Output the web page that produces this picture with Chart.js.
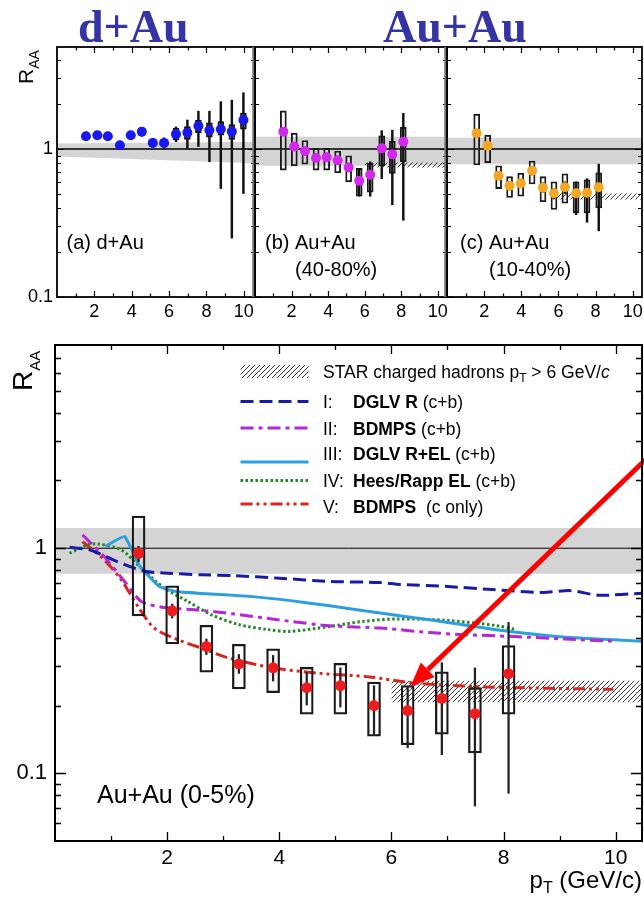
<!DOCTYPE html>
<html><head><meta charset="utf-8">
<script src="https://cdn.jsdelivr.net/npm/chart.js@4/dist/chart.umd.min.js"></script>
<style>
html,body{margin:0;padding:0;background:#fff;overflow:hidden;width:644px;height:900px;}
.cv{position:absolute;left:0;top:0;}
.ttl{position:absolute;font-family:"Liberation Serif","Times New Roman",serif;font-weight:bold;color:#3434a6;font-size:46px;line-height:1;white-space:nowrap;}
</style></head><body>
<canvas id="cA" class="cv" width="700" height="900"></canvas>
<canvas id="cB" class="cv" width="700" height="900"></canvas>
<canvas id="cC" class="cv" width="700" height="900"></canvas>
<canvas id="cD" class="cv" width="700" height="900"></canvas>
<div class="ttl" style="left:78px;top:4px;">d+Au</div>
<div class="ttl" style="left:383px;top:4px;">Au+Au</div>
<script>
// ---------------- DATA ----------------
// (a) d+Au
const ptA = [1.55, 2.16, 2.72, 3.37, 3.95, 4.54, 5.13, 5.73, 6.37, 6.98, 7.57, 8.16, 8.77, 9.36, 9.98];
const raaA = [1.22, 1.24, 1.22, 1.06, 1.24, 1.31, 1.10, 1.10, 1.26, 1.29, 1.43, 1.34, 1.36, 1.31, 1.57];
const statLoA = [1.15, 1.18, 1.16, 1.00, 1.17, 1.22, 1.02, 1.01, 1.12, 1.01, 1.04, 0.82, 0.54, 0.25, 0.50];
const statHiA = [1.30, 1.30, 1.29, 1.12, 1.31, 1.40, 1.18, 1.19, 1.41, 1.57, 1.80, 1.80, 2.09, 2.14, 2.40];
const sysLoA = [1.16, 1.18, 1.16, 1.01, 1.18, 1.24, 1.04, 1.04, 1.15, 1.16, 1.29, 1.20, 1.24, 1.16, 1.36];
const sysHiA = [1.28, 1.30, 1.28, 1.11, 1.30, 1.38, 1.16, 1.16, 1.38, 1.42, 1.57, 1.50, 1.53, 1.46, 1.75];
const bandXA = [0, 10.6], bandHiA = [1.09, 1.12], bandLoA = [0.89, 0.80];

// (b) Au+Au 40-80%
const ptB = [1.55, 2.15, 2.73, 3.34, 3.92, 4.52, 5.12, 5.70, 6.30, 6.93, 7.51, 8.11];
const raaB = [1.31, 1.04, 0.97, 0.87, 0.88, 0.84, 0.75, 0.61, 0.67, 1.01, 0.92, 1.12];
const statLoB = [1.24, 0.99, 0.92, 0.83, 0.84, 0.80, 0.71, 0.48, 0.48, 0.63, 0.42, 0.33];
const statHiB = [1.38, 1.09, 1.02, 0.91, 0.92, 0.88, 0.79, 0.74, 0.82, 1.33, 1.34, 1.74];
const sysLoB = [0.72, 0.77, 0.79, 0.72, 0.72, 0.69, 0.60, 0.48, 0.51, 0.77, 0.685, 0.82];
const sysHiB = [1.81, 1.28, 1.14, 1.01, 1.01, 0.97, 0.90, 0.74, 0.80, 1.23, 1.13, 1.40];
const bandXB = [0, 10.5], bandHiB = [1.21, 1.21], bandLoB = [0.77, 0.77];
const hatchXB = [6.0, 10.5], hatchHiB = [0.81, 0.81], hatchLoB = [0.75, 0.75];

// (c) Au+Au 10-40%
const ptC = [1.60, 2.19, 2.78, 3.37, 3.97, 4.58, 5.17, 5.76, 6.35, 6.95, 7.54, 8.17];
const raaC = [1.28, 1.05, 0.66, 0.565, 0.586, 0.714, 0.548, 0.502, 0.551, 0.502, 0.506, 0.551];
const statLoC = [1.20, 0.99, 0.62, 0.53, 0.55, 0.67, 0.51, 0.46, 0.50, 0.36, 0.32, 0.28];
const statHiC = [1.36, 1.11, 0.70, 0.60, 0.62, 0.76, 0.59, 0.54, 0.60, 0.60, 0.63, 0.79];
const sysLoC = [0.78, 0.81, 0.54, 0.47, 0.48, 0.58, 0.44, 0.39, 0.43, 0.37, 0.37, 0.40];
const sysHiC = [1.72, 1.24, 0.77, 0.65, 0.685, 0.83, 0.65, 0.60, 0.68, 0.60, 0.62, 0.69];
const bandXC = [0, 10.5], bandHiC = [1.19, 1.19], bandLoC = [0.79, 0.79];
const hatchXC = [5.9, 10.5], hatchHiC = [0.50, 0.50], hatchLoC = [0.455, 0.455];

// (d) Au+Au 0-5%
const ptD = [1.49, 2.09, 2.70, 3.28, 3.89, 4.49, 5.09, 5.69, 6.29, 6.90, 7.49, 8.09];
const raaD = [0.95, 0.527, 0.366, 0.306, 0.294, 0.240, 0.245, 0.200, 0.190, 0.215, 0.184, 0.277];
const statLoD = [0.87, 0.49, 0.337, 0.278, 0.257, 0.201, 0.197, 0.149, 0.130, 0.121, 0.0715, 0.0814];
const statHiD = [1.02, 0.565, 0.395, 0.337, 0.334, 0.281, 0.294, 0.245, 0.242, 0.31, 0.294, 0.468];
const sysLoD = [0.50, 0.376, 0.281, 0.237, 0.228, 0.183, 0.183, 0.146, 0.134, 0.149, 0.123, 0.183];
const sysHiD = [1.39, 0.68, 0.454, 0.374, 0.357, 0.296, 0.308, 0.254, 0.245, 0.282, 0.24, 0.369];
const bandXD = [0, 10.47], bandHiD = [1.23, 1.23], bandLoD = [0.77, 0.77];
const hatchXD = [6.0, 10.47], hatchHiD = [0.258, 0.258], hatchLoD = [0.207, 0.207];

// theory curves
const cI_x = [0.26, 0.64, 1.12, 1.6, 2.0, 2.6, 3.2, 4.0, 4.9, 5.8, 6.15, 7.0, 7.8, 8.7, 9.2, 9.7, 10.5];
const cI_y = [1.01, 0.98, 0.87, 0.79, 0.775, 0.762, 0.755, 0.736, 0.712, 0.704, 0.69, 0.676, 0.655, 0.636, 0.648, 0.618, 0.632];
const cII_x = [0.49, 0.88, 1.24, 1.54, 1.95, 2.49, 3.2, 4.0, 4.9, 5.8, 6.68, 7.3, 8.2, 9.1, 10.0];
const cII_y = [1.146, 0.918, 0.711, 0.58, 0.545, 0.533, 0.51, 0.48, 0.452, 0.442, 0.422, 0.413, 0.405, 0.395, 0.386];
const cIII_x = [0.9, 1.24, 1.5, 1.86, 2.16, 2.6, 3.47, 4.2, 4.9, 5.8, 6.68, 7.87, 9.06, 10.5];
const cIII_y = [1.02, 1.126, 0.84, 0.676, 0.642, 0.63, 0.611, 0.585, 0.555, 0.515, 0.481, 0.434, 0.403, 0.386];
const cIV_x = [0.26, 0.58, 0.76, 1.18, 1.54, 1.95, 2.37, 2.79, 3.29, 3.8, 4.18, 4.9, 5.49, 6.09, 6.98, 7.87, 8.23];
const cIV_y = [0.95, 1.034, 1.045, 0.983, 0.815, 0.665, 0.58, 0.506, 0.457, 0.435, 0.427, 0.449, 0.473, 0.485, 0.478, 0.453, 0.434];
const cV_x = [0.49, 0.88, 1.18, 1.48, 1.77, 2.19, 2.61, 3.08, 3.89, 4.72, 5.61, 6.39, 7.7, 9.96];
const cV_y = [1.07, 0.887, 0.724, 0.551, 0.442, 0.392, 0.36, 0.326, 0.294, 0.278, 0.268, 0.252, 0.242, 0.236];

// arrow annotation (data coordinates)
const arrowFrom = {x: 10.55, y: 2.5};
const arrowTo = {x: 6.34, y: 0.243};

// ---------------- STYLE / HELPERS ----------------
const FONT = '"Liberation Sans", Arial, Helvetica, sans-serif';
Chart.defaults.font.family = FONT;
Chart.defaults.color = '#000';
const S = {
  I:   {color:'#1a1aa8', dash:[13,6], width:3},
  II:  {color:'#b526d6', dash:[13,5,4,5], width:3},
  III: {color:'#2b9fe0', dash:[], width:3},
  IV:  {color:'#238a23', dash:[2.5,2.5], width:3},
  V:   {color:'#d8261e', dash:[12,4,3,4,3,4], width:3}
};
const hatch = (() => {
  const c = document.createElement('canvas'); c.width = 5; c.height = 5;
  const g = c.getContext('2d');
  g.strokeStyle = '#3a3a3a'; g.lineWidth = 1;
  g.beginPath();
  g.moveTo(0,5); g.lineTo(5,0);
  g.moveTo(-1,1); g.lineTo(1,-1);
  g.moveTo(4,6); g.lineTo(6,4);
  g.stroke();
  return g.createPattern(c, 'repeat');
})();
const pts = (xs, ys) => xs.map((x, i) => ({x, y: ys[i]}));
const rng = (xs, lo, hi) => xs.map((x, i) => ({x, y: [lo[i], hi[i]]}));
const near = (v, t) => Math.abs(v - t) < t * 1e-6;

function bandSets(xs, hi, lo, fillColor, order) {
  return [
    {type:'line', data: pts(xs, hi), borderWidth:0, pointRadius:0, fill:'+1', backgroundColor: fillColor, order},
    {type:'line', data: pts(xs, lo), borderWidth:0, pointRadius:0, fill:false, backgroundColor:'rgba(0,0,0,0)', order}
  ];
}
function unity(xmax, lw) {
  return {type:'line', data: pts([0, xmax], [1, 1]), borderColor:'#000', borderWidth: lw, pointRadius:0, fill:false, order:8};
}
function curve(xs, ys, st, tension) {
  return {type:'line', data: pts(xs, ys), borderColor: st.color, borderWidth: st.width, borderDash: st.dash,
          pointRadius:0, fill:false, tension, order:5};
}
function boxes(xs, lo, hi, thick, lw) {
  return {type:'bar', data: rng(xs, lo, hi), backgroundColor:'rgba(0,0,0,0)', borderColor:'#1a1a1a',
          borderWidth: lw, borderSkipped:false, barThickness: thick, grouped:false, order:3};
}
function errs(xs, lo, hi, thick, color) {
  return {type:'bar', data: rng(xs, lo, hi), backgroundColor: color, borderWidth:0,
          barThickness: thick, grouped:false, order:2};
}
function marks(xs, ys, color, r) {
  return {type:'scatter', data: pts(xs, ys), pointBackgroundColor: color, pointBorderWidth:0,
          pointRadius: r, showLine:false, order:1};
}

function drawRich(ctx, segs, x, y, align, rot) {
  ctx.save();
  ctx.translate(x, y);
  if (rot) ctx.rotate(rot);
  let w = 0;
  segs.forEach(g => { ctx.font = g.f; w += ctx.measureText(g.s).width; });
  let cx = align === 'right' ? -w : 0;
  ctx.textBaseline = 'alphabetic'; ctx.textAlign = 'left'; ctx.fillStyle = '#000';
  segs.forEach(g => { ctx.font = g.f; ctx.fillText(g.s, cx, g.dy || 0); cx += ctx.measureText(g.s).width; });
  ctx.restore();
}
const f = (size, w, st) => `${st || ''} ${w || ''} ${size}px ${FONT}`;

const decor = {
  id: 'decor',
  afterDatasetsDraw(chart, args, o) {
    const {ctx, chartArea: a, scales: {x, y}} = chart;
    ctx.save();
    if (o.arrow) {
      const x1 = x.getPixelForValue(o.arrow.from.x), y1 = y.getPixelForValue(o.arrow.from.y);
      const x2 = x.getPixelForValue(o.arrow.to.x), y2 = y.getPixelForValue(o.arrow.to.y);
      const ang = Math.atan2(y2 - y1, x2 - x1), hl = 24, hw = 10;
      const bx = x2 - hl * Math.cos(ang), by = y2 - hl * Math.sin(ang);
      ctx.strokeStyle = '#ff0000'; ctx.fillStyle = '#ff0000'; ctx.lineWidth = 5;
      ctx.beginPath(); ctx.moveTo(x1, y1); ctx.lineTo(bx, by); ctx.stroke();
      ctx.beginPath(); ctx.moveTo(x2, y2);
      ctx.lineTo(bx + hw * Math.sin(ang), by - hw * Math.cos(ang));
      ctx.lineTo(bx - hw * Math.sin(ang), by + hw * Math.cos(ang));
      ctx.closePath(); ctx.fill();
    }
    if (o.sep) {
      ctx.strokeStyle = '#777'; ctx.lineWidth = 2.5;
      ctx.beginPath(); ctx.moveTo(a.left - 1.5, a.top); ctx.lineTo(a.left - 1.5, a.bottom); ctx.stroke();
    }
    ctx.strokeStyle = '#000'; ctx.lineWidth = o.tickWidth;
    ctx.beginPath();
    const tx = (vals, len) => vals.forEach(v => {
      const px = Math.round(x.getPixelForValue(v)) + 0.5;
      ctx.moveTo(px, a.bottom); ctx.lineTo(px, a.bottom - len);
      ctx.moveTo(px, a.top); ctx.lineTo(px, a.top + len);
    });
    const ty = (vals, len) => vals.forEach(v => {
      const py = Math.round(y.getPixelForValue(v)) + 0.5;
      ctx.moveTo(a.left, py); ctx.lineTo(a.left + len, py);
      ctx.moveTo(a.right, py); ctx.lineTo(a.right - len, py);
    });
    tx(o.xMajor, o.xMajorLen); tx(o.xMinor, o.xMinorLen);
    ty(o.yMajor, o.yMajorLen); ty(o.yMinor, o.yMinorLen);
    ctx.stroke();
    ctx.lineWidth = o.frameWidth;
    ctx.strokeRect(a.left, a.top, a.right - a.left, a.bottom - a.top);
    if (o.legend) {
      o.legend.forEach(r => {
        if (r.hatch) {
          ctx.fillStyle = hatch; ctx.fillRect(r.sx1, r.sy - 6.5, r.sx2 - r.sx1, 13);
        } else {
          ctx.save(); ctx.strokeStyle = r.st.color; ctx.lineWidth = r.st.width; ctx.setLineDash(r.st.dash);
          ctx.beginPath(); ctx.moveTo(r.sx1, r.sy); ctx.lineTo(r.sx2, r.sy); ctx.stroke(); ctx.restore();
        }
        r.parts.forEach(p => drawRich(ctx, p.segs, p.x, r.base, 'left'));
      });
    }
    (o.texts || []).forEach(t => drawRich(ctx, t.segs, t.x, t.y, t.align, t.rot));
    ctx.restore();
  }
};

function axes(p) {
  return {
    x: {type:'linear', min:0, max:p.xmax, offset:false,
        grid:{display:false, drawTicks:false}, border:{display:false},
        ticks:{stepSize:1, autoSkip:false, maxRotation:0, includeBounds:false, padding:p.xPad,
               font:{size:p.xFont}, color:'#000',
               callback: v => (v > 0 && v % 2 === 0) ? String(v) : ''},
        afterFit: s => { s.height = 40; }},
    y: {type:'logarithmic', min:p.ymin, max:p.ymax, display:p.showY,
        grid:{display:false, drawTicks:false}, border:{display:false},
        ticks:{autoSkip:false, padding:p.yPad, font:{size:p.yFont}, color:'#000',
               callback: v => near(v, 1) ? '1' : (near(v, 0.1) ? '0.1' : '')},
        afterFit: s => { s.width = p.showY ? p.yWidth : 0; }}
  };
}

const topTicks = {xMajor:[2,4,6,8,10], xMinor:[1,3,5,7,9], xMajorLen:6, xMinorLen:3.5,
  yMajor:[0.1,1], yMinor:[0.2,0.3,0.4,0.5,0.6,0.7,0.8,0.9,2,3,4], yMajorLen:7, yMinorLen:4,
  tickWidth:1.2, frameWidth:1.8};

function topPanel(id, p) {
  const ds = [
    ...bandSets(p.bandX, p.bandHi, p.bandLo, '#d4d4d4', 10),
    ...(p.hatchX ? bandSets(p.hatchX, p.hatchHi, p.hatchLo, hatch, 9) : []),
    unity(p.xmax, 1.5),
    boxes(p.pt, p.sysLo, p.sysHi, 6, 1.2),
    errs(p.pt, p.statLo, p.statHi, 1.8, '#111'),
    marks(p.pt, p.raa, p.color, 5)
  ];
  return new Chart(document.getElementById(id), {
    type:'line',
    data:{datasets: ds},
    options:{
      responsive:false, animation:false, events:[],
      layout:{padding:{left:p.padLeft, right:700 - p.right, top:47, bottom:900 - 297 - 40}},
      scales: axes({xmax:p.xmax, ymin:0.1, ymax:4.89, showY:p.showY, xPad:4, yPad:4, xFont:18, yFont:18, yWidth:57}),
      plugins:{legend:{display:false}, tooltip:{enabled:false},
        decor: Object.assign({}, topTicks, {sep:p.sep, texts:p.texts})}
    },
    plugins:[decor]
  });
}

topPanel('cA', {pt:ptA, raa:raaA, statLo:statLoA, statHi:statHiA, sysLo:sysLoA, sysHi:sysHiA,
  bandX:bandXA, bandHi:bandHiA, bandLo:bandLoA, color:'#1818f0', xmax:10.6, padLeft:0, right:255, showY:true,
  texts:[
    {segs:[{s:'(a) d+Au', f:f(20)}], x:66.5, y:249},
    {segs:[{s:'R', f:f(21)}, {s:'AA', f:f(14), dy:6}], x:33, y:84, rot:-Math.PI/2}
  ]});
topPanel('cB', {pt:ptB, raa:raaB, statLo:statLoB, statHi:statHiB, sysLo:sysLoB, sysHi:sysHiB,
  bandX:bandXB, bandHi:bandHiB, bandLo:bandLoB, hatchX:hatchXB, hatchHi:hatchHiB, hatchLo:hatchLoB,
  color:'#d428ee', xmax:10.5, padLeft:255, right:447, showY:false, sep:true,
  texts:[
    {segs:[{s:'(b) Au+Au', f:f(20)}], x:265, y:249},
    {segs:[{s:'(40-80%)', f:f(20)}], x:295, y:276}
  ]});
topPanel('cC', {pt:ptC, raa:raaC, statLo:statLoC, statHi:statHiC, sysLo:sysLoC, sysHi:sysHiC,
  bandX:bandXC, bandHi:bandHiC, bandLo:bandLoC, hatchX:hatchXC, hatchHi:hatchHiC, hatchLo:hatchLoC,
  color:'#f5a623', xmax:10.5, padLeft:447, right:642, showY:false, sep:true,
  texts:[
    {segs:[{s:'(c) Au+Au', f:f(20)}], x:460, y:249},
    {segs:[{s:'(10-40%)', f:f(20)}], x:489, y:276}
  ]});

// bottom panel
const LF = 17.5;
const legendRows = [
  {hatch:true, sx1:240.5, sx2:308.5, sy:371.5, base:377.5,
   parts:[{x:323, segs:[{s:'STAR charged hadrons p', f:f(LF)}, {s:'T', f:f(12), dy:4}, {s:' > 6 GeV/', f:f(LF)}, {s:'c', f:f(LF, '', 'italic')}]}]},
  {st:S.I, sx1:240.5, sx2:308.5, sy:401.5, base:408,
   parts:[{x:323, segs:[{s:'I:', f:f(LF)}]}, {x:353, segs:[{s:'DGLV R', f:f(LF,'bold')}, {s:' (c+b)', f:f(LF)}]}]},
  {st:S.II, sx1:240.5, sx2:308.5, sy:428, base:435,
   parts:[{x:323, segs:[{s:'II:', f:f(LF)}]}, {x:353, segs:[{s:'BDMPS', f:f(LF,'bold')}, {s:' (c+b)', f:f(LF)}]}]},
  {st:S.III, sx1:240.5, sx2:308.5, sy:462, base:460,
   parts:[{x:323, segs:[{s:'III:', f:f(LF)}]}, {x:353, segs:[{s:'DGLV R+EL', f:f(LF,'bold')}, {s:' (c+b)', f:f(LF)}]}]},
  {st:S.IV, sx1:240.5, sx2:308.5, sy:480.5, base:487,
   parts:[{x:323, segs:[{s:'IV:', f:f(LF)}]}, {x:353, segs:[{s:'Hees/Rapp EL', f:f(LF,'bold')}, {s:' (c+b)', f:f(LF)}]}]},
  {st:S.V, sx1:240.5, sx2:308.5, sy:504, base:513,
   parts:[{x:323, segs:[{s:'V:', f:f(LF)}]}, {x:353, segs:[{s:'BDMPS', f:f(LF,'bold')}, {s:'  (c only)', f:f(LF)}]}]}
];

new Chart(document.getElementById('cD'), {
  type:'line',
  data:{datasets:[
    ...bandSets(bandXD, bandHiD, bandLoD, '#d4d4d4', 10),
    ...bandSets(hatchXD, hatchHiD, hatchLoD, hatch, 9),
    unity(10.47, 1),
    curve(cI_x, cI_y, S.I, 0.25),
    curve(cII_x, cII_y, S.II, 0.25),
    curve(cIII_x, cIII_y, S.III, 0.15),
    curve(cIV_x, cIV_y, S.IV, 0.3),
    curve(cV_x, cV_y, S.V, 0.3),
    boxes(ptD, sysLoD, sysHiD, 13, 1.6),
    errs(ptD, statLoD, statHiD, 1.6, '#222'),
    marks(ptD, raaD, '#ee1c1c', 5.5)
  ]},
  options:{
    responsive:false, animation:false, events:[],
    layout:{padding:{left:0, right:700 - 642, top:345, bottom:900 - 841 - 40}},
    scales: axes({xmax:10.47, ymin:0.05, ymax:8, showY:true, xPad:5, yPad:8, xFont:21, yFont:22, yWidth:55}),
    plugins:{legend:{display:false}, tooltip:{enabled:false},
      decor:{xMajor:[2,4,6,8,10], xMinor:[1,3,5,7,9], xMajorLen:9, xMinorLen:5,
        yMajor:[0.1,1], yMinor:[0.06,0.07,0.08,0.09,0.2,0.3,0.4,0.5,0.6,0.7,0.8,0.9,2,3,4,5,6,7],
        yMajorLen:11, yMinorLen:6, tickWidth:1.3, frameWidth:2,
        arrow:{from:arrowFrom, to:arrowTo},
        legend: legendRows,
        texts:[
          {segs:[{s:'R', f:f(28)}, {s:'AA', f:f(15), dy:8}], x:32, y:391, rot:-Math.PI/2},
          {segs:[{s:'p', f:f(24)}, {s:'T', f:f(16), dy:5}, {s:' (GeV/c)', f:f(24)}], x:642, y:888, align:'right'},
          {segs:[{s:'Au+Au (0-5%)', f:f(25)}], x:97, y:803}
        ]}
    }
  },
  plugins:[decor]
});
</script>
</body></html>
